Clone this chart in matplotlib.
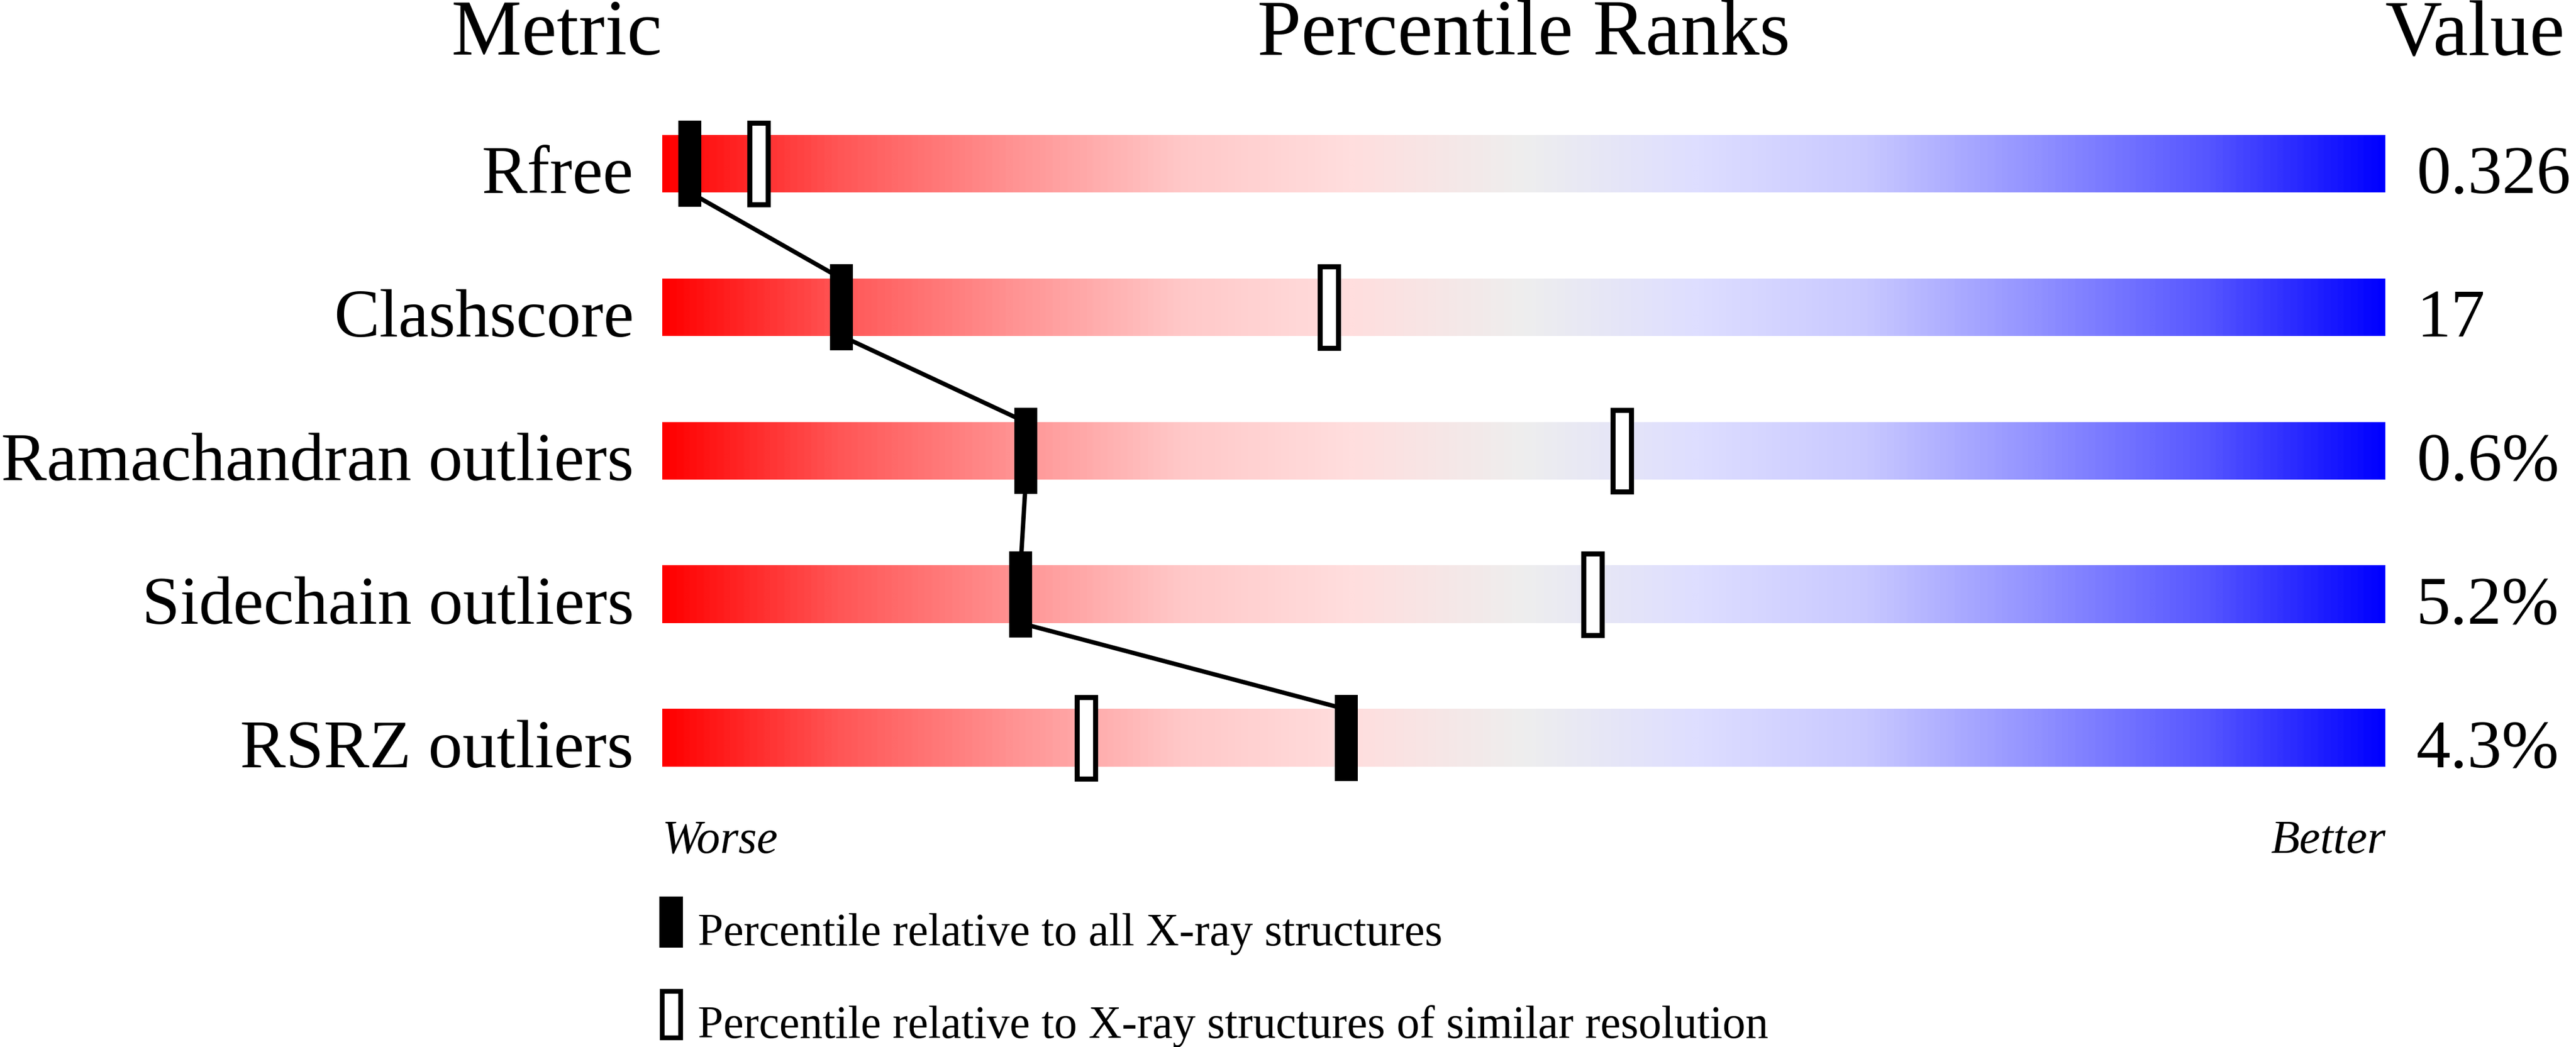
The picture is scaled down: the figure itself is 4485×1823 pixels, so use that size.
"""
Percentile rank slider chart (validation summary style).
Output: out.png
"""

import matplotlib.pyplot as plt
import numpy as np
from matplotlib.colors import LinearSegmentedColormap
from matplotlib.patches import Rectangle


METRICS = ["Rfree", "Clashscore", "Ramachandran outliers", "Sidechain outliers", "RSRZ outliers"]
VALUES = ["0.326", "17", "0.6%", "5.2%", "4.3%"]
PCT_ALL = [1.6, 10.4, 21.1, 20.8, 39.7]
PCT_SIMILAR = [5.6, 38.7, 55.7, 54.0, 24.6]
LEGEND_LABELS = [
    "Percentile relative to all X-ray structures",
    "Percentile relative to X-ray structures of similar resolution",
]

# slider gradient stops (position, colour)
GRADIENT = [
    (0.0, "#ff0000"), (0.1, "#ff5555"), (0.2, "#ff9191"), (0.3, "#ffc8c8"),
    (0.4, "#ffdede"), (0.5, "#eeeeee"), (0.6, "#dedeff"), (0.7, "#c8c8ff"),
    (0.8, "#9191ff"), (0.9, "#5555ff"), (1.0, "#0000ff"),
]

FONT = ["Liberation Serif", "DejaVu Serif"]
BAR_H = 0.4
MARK_W = 1.33
MARK_H = 0.6
EDGE_LW = 6.3

plt.rcParams["font.family"] = FONT


def draw_marker(ax, x, y, filled, w=MARK_W, h=MARK_H, lw=EDGE_LW):
    if filled:
        rect = Rectangle((x - w / 2, y - h / 2), w, h, facecolor="black",
                         edgecolor="none", zorder=5, clip_on=False)
    else:
        dw = lw / 72 * 100 / 30
        dh = lw / 72 * 100 / 250
        rect = Rectangle((x - (w - dw) / 2, y - (h - dh) / 2), w - dw, h - dh,
                         facecolor="white", edgecolor="black", linewidth=lw,
                         zorder=5, clip_on=False, joinstyle="miter")
    ax.add_patch(rect)


def main():
    cmap = LinearSegmentedColormap.from_list("slider", GRADIENT)
    grad = np.linspace(0, 1, 1200).reshape(1, -1)

    fig = plt.figure(figsize=(44.85, 18.24), dpi=100)
    ax = fig.add_axes([1153 / 4485, (1824 - 1411) / 1824, 3000 / 4485, 1250 / 1824])

    rows = np.arange(len(METRICS))
    for r in rows:
        ax.imshow(grad, cmap=cmap, aspect="auto", interpolation="bilinear",
                  extent=(0, 100, r + BAR_H / 2, r - BAR_H / 2), zorder=1)

    # connecting line for the "all structures" percentiles
    for r in rows[:-1]:
        ax.plot([PCT_ALL[r], PCT_ALL[r + 1]], [r + BAR_H / 2, r + 1 - BAR_H / 2],
                color="black", linewidth=5.5, zorder=3, solid_capstyle="butt")

    for r in rows:
        draw_marker(ax, PCT_SIMILAR[r], r, filled=False)
        draw_marker(ax, PCT_ALL[r], r, filled=True)
        ax.text(-1.65, r + BAR_H / 2, METRICS[r], ha="right", va="baseline",
                fontsize=85.8, fontfamily=FONT)
        ax.text(101.8, r + BAR_H / 2, VALUES[r], ha="left", va="baseline",
                fontsize=86, fontfamily=FONT)

    # headers
    ax.text(0, -0.762, "Metric", ha="right", va="baseline", fontsize=99, fontfamily=FONT)
    ax.text(50, -0.762, "Percentile Ranks", ha="center", va="baseline", fontsize=99,
            fontfamily=FONT)
    ax.text(100, -0.762, "Value", ha="left", va="baseline", fontsize=99, fontfamily=FONT)

    # worse / better
    ax.text(0, 4.796, "Worse", ha="left", va="baseline", fontsize=59,
            style="italic", fontfamily=FONT)
    ax.text(100, 4.796, "Better", ha="right", va="baseline", fontsize=59,
            style="italic", fontfamily=FONT)

    # legend
    leg_y = [5.282, 5.926]
    for i, (y, label) in enumerate(zip(leg_y, LEGEND_LABELS)):
        draw_marker(ax, 0.52, y, filled=(i == 0), w=1.35, h=0.356, lw=6.0)
        ax.text(2.07, y + 0.158, label, ha="left", va="baseline", fontsize=57.5,
                fontfamily=FONT)

    ax.set_xlim(0, 100)
    ax.set_ylim(len(METRICS) - 0.5, -0.5)
    ax.axis("off")

    fig.savefig("out.png", dpi=100)
    plt.close(fig)


if __name__ == "__main__":
    main()
